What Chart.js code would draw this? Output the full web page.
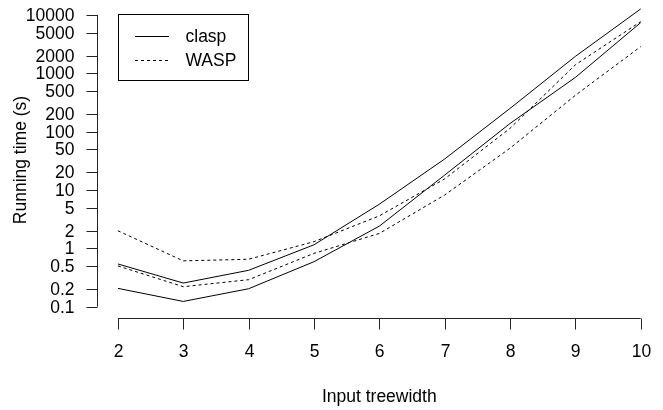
<!DOCTYPE html>
<html>
<head>
<meta charset="utf-8">
<script src="https://cdn.jsdelivr.net/npm/chart.js@4"></script>
<style>
  html, body { margin: 0; padding: 0; background: #fff; }
  #wrap { width: 663px; height: 410px; position: relative; }
</style>
</head>
<body>
<div id="wrap"><canvas id="runtime"></canvas></div>
<script>
// treewidth on x, running time (s) on a log y axis
const treewidth = [2, 3, 4, 5, 6, 7, 8, 9, 10];
const claspUpper = [0.54, 0.254, 0.42, 1.15, 5.7, 34, 250, 1950, 12700];
const claspLower = [0.206, 0.123, 0.203, 0.59, 2.4, 18, 138, 850, 7400];
const waspUpper = [2.0, 0.61, 0.65, 1.3, 3.6, 15.5, 114, 1400, 7700];
const waspLower = [0.50, 0.22, 0.29, 0.82, 1.8, 8.2, 52, 420, 2870];

const yTicks = [0.1, 0.2, 0.5, 1, 2, 5, 10, 20, 50, 100, 200, 500, 1000, 2000, 5000, 10000];
const xTicks = [2, 3, 4, 5, 6, 7, 8, 9, 10];
const legendNames = ['clasp', 'WASP'];

const FONT = '17.5px "Liberation Sans", Arial, sans-serif';

function pts(vals) {
    return treewidth.map((t, i) => ({ x: t, y: vals[i] }));
}

function series(label, vals, dashed) {
    return {
        label: label,
        data: pts(vals),
        borderColor: '#000',
        borderWidth: 1,
        borderDash: dashed ? [3, 3] : [],
        pointRadius: 0,
        tension: 0,
        fill: false
    };
}

// R-style axes: lines only over the tick range, drawn off the library scales
const rAxes = {
    id: 'rAxes',
    afterDraw(chart) {
        const ctx = chart.ctx;
        const xs = chart.scales.x;
        const ys = chart.scales.y;
        const area = chart.chartArea;
        ctx.save();
        ctx.strokeStyle = '#222';
        ctx.lineWidth = 1;
        ctx.fillStyle = '#000';
        ctx.font = FONT;

        // y axis
        const yl = Math.round(area.left) + 0.5;
        ctx.beginPath();
        ctx.moveTo(yl, ys.getPixelForValue(yTicks[0]));
        ctx.lineTo(yl, ys.getPixelForValue(yTicks[yTicks.length - 1]));
        ctx.stroke();
        ctx.textAlign = 'right';
        ctx.textBaseline = 'middle';
        yTicks.forEach(v => {
            const py = Math.round(ys.getPixelForValue(v)) + 0.5;
            ctx.beginPath();
            ctx.moveTo(yl, py);
            ctx.lineTo(yl - 11, py);
            ctx.stroke();
            ctx.fillText(String(v), yl - 23, py + 1);
        });

        // x axis
        const xb = Math.round(area.bottom) + 0.5;
        ctx.beginPath();
        ctx.moveTo(xs.getPixelForValue(xTicks[0]), xb);
        ctx.lineTo(xs.getPixelForValue(xTicks[xTicks.length - 1]), xb);
        ctx.stroke();
        ctx.textAlign = 'center';
        xTicks.forEach(v => {
            const px = Math.round(xs.getPixelForValue(v)) + 0.5;
            ctx.beginPath();
            ctx.moveTo(px, xb);
            ctx.lineTo(px, xb + 11);
            ctx.stroke();
            ctx.fillText(String(v), px, xb + 34);
        });

        // axis titles
        ctx.fillText('Input treewidth', (area.left + area.right) / 2, 397);
        ctx.save();
        ctx.translate(21, 160);
        ctx.rotate(-Math.PI / 2);
        ctx.fillText('Running time (s)', 0, 0);
        ctx.restore();

        // legend box
        ctx.strokeStyle = '#000';
        ctx.strokeRect(118.5, 14.5, 130, 66);
        ctx.textAlign = 'left';
        legendNames.forEach((name, i) => {
            const ly = i === 0 ? 36.5 : 60.5;
            ctx.setLineDash(i === 0 ? [] : [3, 3]);
            ctx.beginPath();
            ctx.moveTo(135, ly);
            ctx.lineTo(169, ly);
            ctx.stroke();
            ctx.setLineDash([]);
            ctx.fillText(name, 185.5, ly + 1);
        });
        ctx.restore();
    }
};

const chart = new Chart(document.getElementById('runtime').getContext('2d'), {
    type: 'line',
    data: {
        datasets: [
            series('clasp', claspUpper, false),
            series('clasp', claspLower, false),
            series('WASP', waspUpper, true),
            series('WASP', waspLower, true)
        ]
    },
    options: {
        responsive: true,
        maintainAspectRatio: false,
        animation: false,
        layout: { padding: { left: 97, right: 1.4, top: 0, bottom: 91.7 } },
        plugins: { legend: { display: false }, tooltip: { enabled: false } },
        scales: {
            x: { type: 'linear', display: false, min: 1.68, max: 10.32 },
            y: { type: 'logarithmic', display: false, min: 0.0632, max: 18080 }
        }
    },
    plugins: [rAxes]
});
</script>
</body>
</html>
